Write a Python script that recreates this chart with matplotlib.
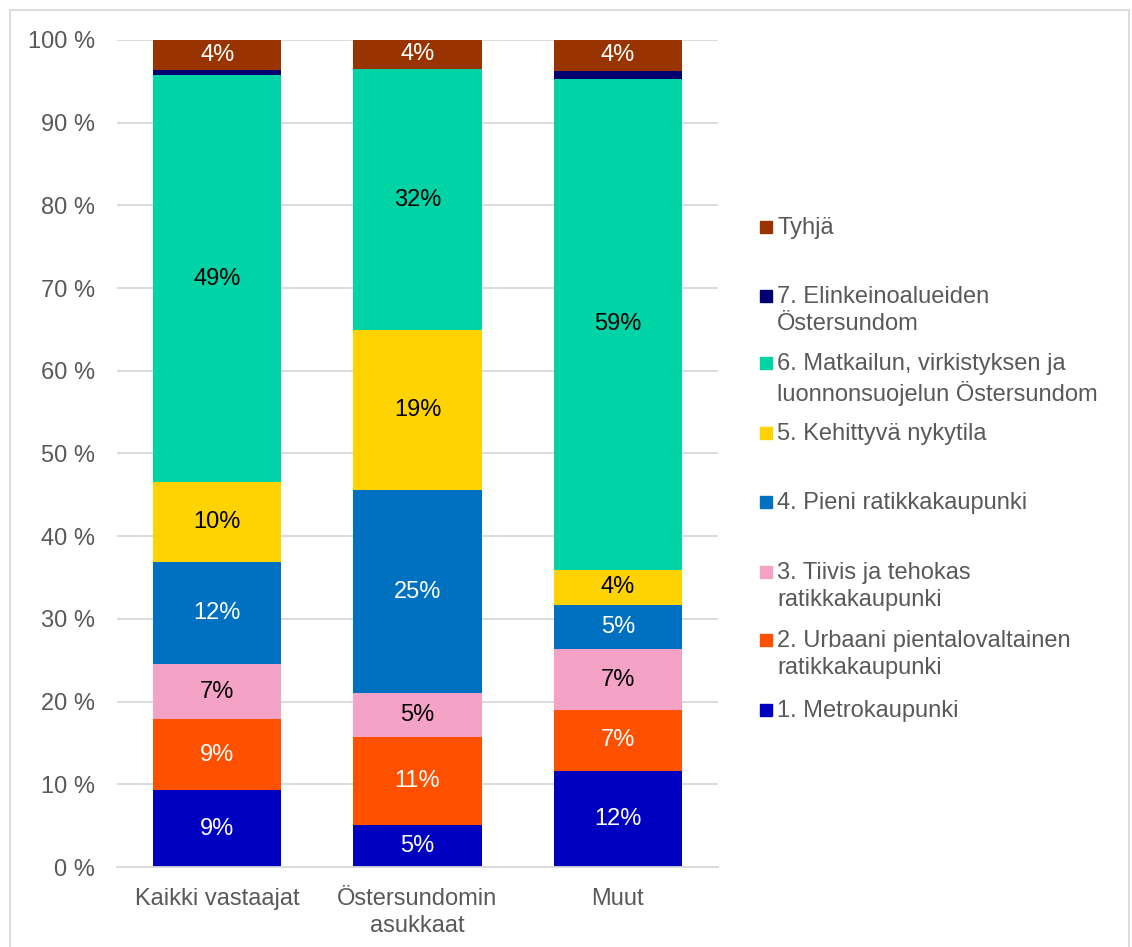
import numpy as np
import matplotlib
matplotlib.use('Agg')
from matplotlib import pyplot as plt
from matplotlib import patches as mpatches

plt.rcParams['font.family'] = ['Liberation Sans', 'DejaVu Sans']

groups = ['Kaikki vastaajat', 'Östersundomin\nasukkaat', 'Muut']

series = ['1. Metrokaupunki',
          '2. Urbaani pientalovaltainen\nratikkakaupunki',
          '3. Tiivis ja tehokas\nratikkakaupunki',
          '4. Pieni ratikkakaupunki',
          '5. Kehittyvä nykytila',
          '6. Matkailun, virkistyksen ja\nluonnonsuojelun Östersundom',
          '7. Elinkeinoalueiden\nÖstersundom',
          'Tyhjä']

metro = [9.3, 5.1, 11.6]
urbaani = [8.6, 10.6, 7.4]
tiivis = [6.6, 5.3, 7.3]
pieni = [12.4, 24.6, 5.4]
kehittyva = [9.6, 19.3, 4.2]
matkailu = [49.3, 31.6, 59.4]
elinkeino = [0.6, 0.0, 1.0]
tyhja = [3.6, 3.5, 3.7]

values = [metro, urbaani, tiivis, pieni, kehittyva, matkailu, elinkeino, tyhja]
colors = ['#0000C0', '#FF5000', '#F4A3C6', '#0070C0', '#FFD300',
          '#00D4A6', '#000070', '#993300']
label_colors = ['white', 'white', 'black', 'white', 'black', 'black', None, 'white']

grey = '#595959'
fs = 17

fig = plt.figure(figsize=(11.32, 9.47), dpi=100)
ax = fig.add_axes([117 / 1132, 1 - 867 / 947, 601 / 1132, 827 / 947])

x = np.arange(len(groups))
bottom = np.zeros(len(groups))
for vals, col, lc in zip(values, colors, label_colors):
    vals = np.array(vals)
    ax.bar(x, vals, 0.64, bottom=bottom, color=col, zorder=2)
    if lc is not None:
        for xi, b, v in zip(x, bottom, vals):
            ax.text(xi, b + v / 2, '{:.0f}%'.format(v), ha='center', va='center',
                    color=lc, fontsize=fs, zorder=3)
    bottom += vals

ax.set_xlim(-0.5, 2.5)
ax.set_ylim(0, 100)
ax.set_yticks(np.arange(0, 101, 10))
ax.set_yticklabels(['{} %'.format(t) for t in range(0, 101, 10)])
ax.set_xticks(x)
ax.set_xticklabels(groups, linespacing=1.3)
ax.yaxis.grid(True, color='#D9D9D9', linewidth=1.3, zorder=0)
ax.tick_params(axis='both', length=0, labelsize=fs, labelcolor=grey)
ax.tick_params(axis='y', pad=16)
ax.tick_params(axis='x', pad=15)
for side in ['left', 'right', 'top']:
    ax.spines[side].set_visible(False)
ax.spines['bottom'].set_color('#D9D9D9')
ax.spines['bottom'].set_linewidth(1.3)

# legend drawn by hand, top entry first
leg_y = [227, 296, 363, 433, 502, 572, 640, 710]
for name, col, yy in zip(series[::-1], colors[::-1], leg_y):
    fig.patches.append(mpatches.Rectangle((760 / 1132, 1 - (yy + 6) / 947), 12 / 1132, 12 / 947,
                                          transform=fig.transFigure, color=col))
    fig.text(777 / 1132, 1 - (yy - 10) / 947, name, ha='left', va='top',
             fontsize=fs, color=grey, linespacing=1.3)

# chart frame
fig.patches.append(mpatches.Rectangle((10 / 1132, -0.05), 1119 / 1132, 1 - 10 / 947 + 0.05,
                                      transform=fig.transFigure, fill=False,
                                      edgecolor='#D9D9D9', linewidth=1.3))

plt.savefig('out.png', dpi=100)
